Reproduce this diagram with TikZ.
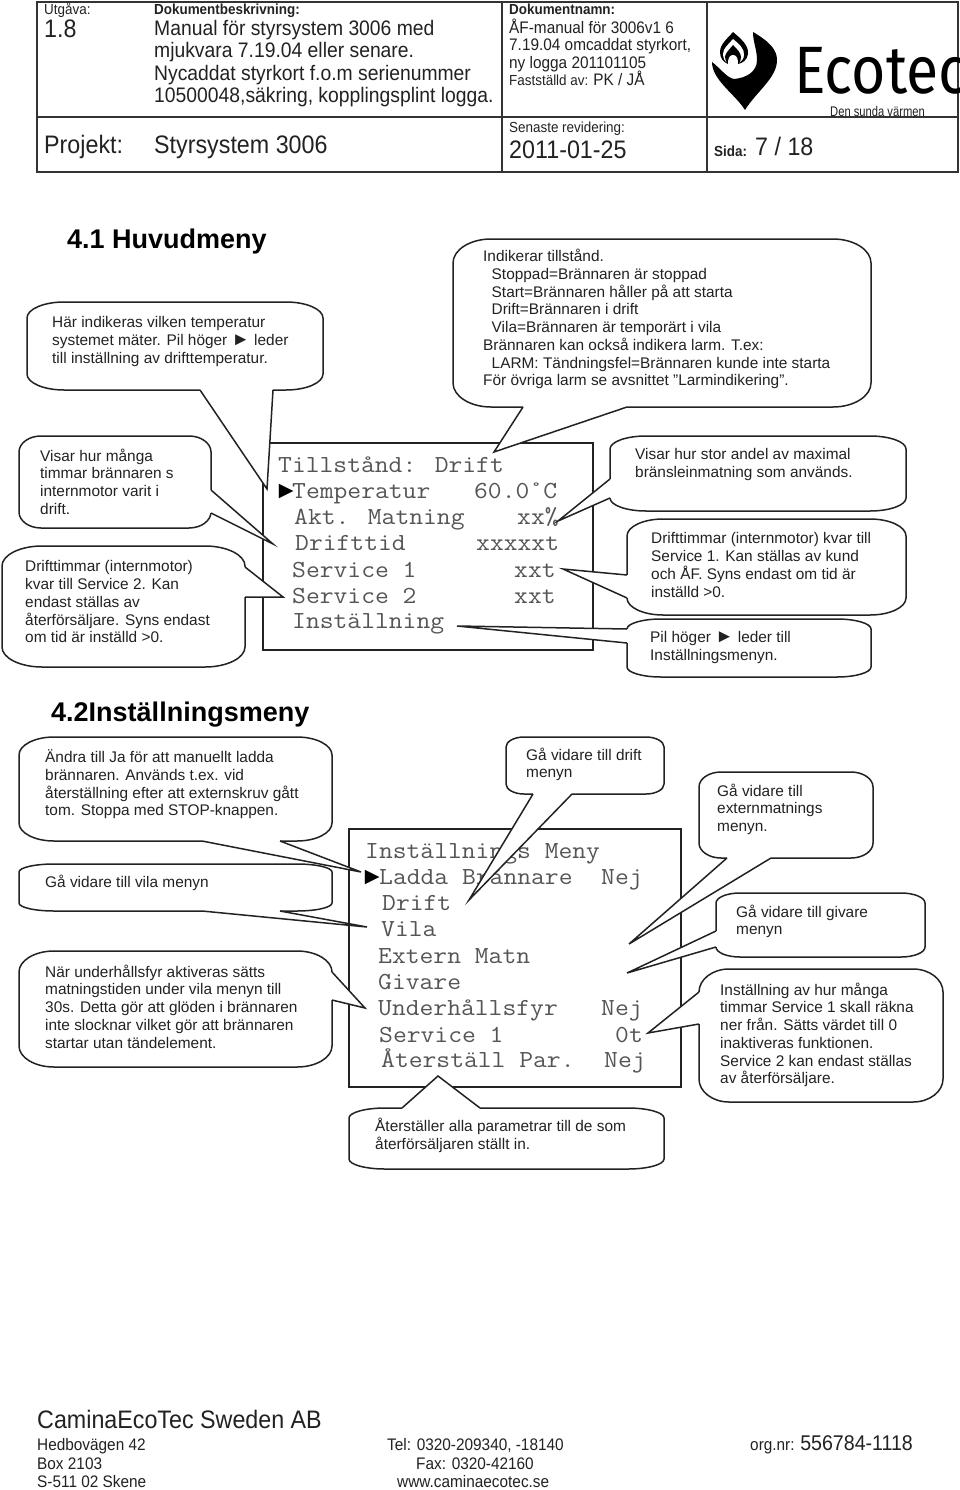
\documentclass[tikz,border=0pt]{standalone}
\usepackage{fontspec}
\setmainfont{Liberation Sans}
\newfontfamily\headfont[FakeStretch=0.92]{Liberation Sans}
\newfontfamily\screenfont[FakeStretch=1.095]{Latin Modern Mono}
\newfontfamily\logofont[FakeStretch=0.88]{Fira Sans}
\newfontfamily\slogan[FakeStretch=0.8]{Liberation Sans}
\definecolor{ink}{HTML}{222222}
\definecolor{screenink}{HTML}{555555}
\newcommand{\fsize}[2]{\fontsize{#1}{#2}\selectfont}
\newcommand{\pilmark}{{\fsize{18.5}{17.75}►}}
% bubble outline: name, x1, y1, x2, y2, rx, ry
\newcommand{\bubble}[7]{%
  \draw[bubble_style] (#2+#6,#3) -- (#4-#6,#3)
    .. controls (#4-0.45*#6,#3) and (#4,#3+0.45*#7) .. (#4,#3+#7) -- (#4,#5-#7)
    .. controls (#4,#5-0.45*#7) and (#4-0.45*#6,#5) .. (#4-#6,#5) -- (#2+#6,#5)
    .. controls (#2+0.45*#6,#5) and (#2,#5-0.45*#7) .. (#2,#5-#7) -- (#2,#3+#7)
    .. controls (#2,#3+0.45*#7) and (#2+0.45*#6,#3) .. (#2+#6,#3) -- cycle;
  \coordinate (#1) at (#2,#3);}
% bubble tail: name, base a, tip, base b
\newcommand{\tail}[7]{%
  \coordinate (#1_a) at (#2,#3);
  \coordinate (#1_tip) at (#4,#5);
  \coordinate (#1_b) at (#6,#7);
  \draw[white,line width=2.6pt] (#1_a) -- (#1_b);
  \draw[bubble_style] (#1_a) -- (#1_tip) -- (#1_b);}
\begin{document}
\begin{tikzpicture}
        [x=1pt,y=-1pt,
         frame_style/.style={draw=black!80,line width=1.2pt},
         screen_style/.style={draw=ink,line width=1.6pt},
         bubble_style/.style={draw=ink,line width=1.5pt,fill=white,line join=miter},
         note_style/.style={anchor=north west,inner sep=0pt,align=left,text=ink,yshift=-1pt,
           font=\fsize{15.4}{17.75},execute at begin node=\strut},
         head_style/.style={anchor=base west,inner sep=0pt,text=ink,font=\headfont\fsize{21}{24}},
         small_style/.style={anchor=base west,inner sep=0pt,text=ink,font=\headfont\fsize{14.6}{17}},
         bold_style/.style={anchor=base west,inner sep=0pt,text=ink,font=\headfont\bfseries\fsize{14.6}{17}},
         big_style/.style={anchor=base west,inner sep=0pt,text=ink,font=\headfont\fsize{25.3}{28}},
         addr_style/.style={anchor=base west,inner sep=0pt,text=ink,font=\headfont\fsize{16.7}{19}},
         title_style/.style={anchor=base west,inner sep=0pt,text=black,font=\bfseries\fsize{27}{32}},
         screen_text/.style={anchor=base west,inner sep=0pt,text=screenink,font=\screenfont\fsize{24.5}{26}},
         pointer_style/.style={anchor=base west,inner sep=0pt,text=black,font=\fsize{24.5}{26}}]
            \useasboundingbox (0,0) rectangle (960,1490);
            \fill[white] (0,0) rectangle (960,1490);
            % header table
            \draw[frame_style] (37,2) rectangle (958,172);
            \draw[frame_style] (37,117) -- (958,117);
            \draw[frame_style] (502,2) -- (502,172);
            \draw[frame_style] (707,2) -- (707,172);
            \node[small_style] (h_issue) at (44,15) {Utgåva:};
            \node[big_style] (h_version) at (44,38) {1.8};
            \node[bold_style] (h_desc) at (154,15) {Dokumentbeskrivning:};
            \node[head_style] (h_desc1) at (154,36) {Manual för styrsystem 3006 med};
            \node[head_style] (h_desc2) at (154,58) {mjukvara 7.19.04 eller senare.};
            \node[head_style] (h_desc3) at (154,81) {Nycaddat styrkort f.o.m serienummer};
            \node[head_style] (h_desc4) at (154,103) {10500048,säkring, kopplingsplint logga.};
            \node[bold_style] (h_name) at (509,15) {Dokumentnamn:};
            \node[addr_style] (h_name1) at (509,34) {ÅF-manual för 3006v1 6};
            \node[addr_style] (h_name2) at (509,51) {7.19.04 omcaddat styrkort,};
            \node[addr_style] (h_name3) at (509,69) {ny logga 201101105};
            \node[small_style] (h_name4) at (509,86) {Fastställd av: \fsize{16.7}{19}PK / JÅ};
            \node[big_style] (h_proj) at (44,154) {Projekt:};
            \node[big_style] (h_proj2) at (154,154) {Styrsystem 3006};
            \node[small_style] (h_rev) at (509,133) {Senaste revidering:};
            \node[big_style] (h_date) at (509,159) {2011-01-25};
            \node[bold_style] (h_page) at (714,157) {Sida:};
            \node[big_style] (h_page2) at (755,156) {7 / 18};
            % logo
            \fill[black] (753,32) .. controls (770,42) and (777,50) .. (777,60)
              .. controls (777,78) and (756,92) .. (745,110)
              .. controls (735,94) and (712,80) .. (712,62)
              .. controls (720,68) and (727,78) .. (734,79)
              .. controls (746,78) and (757,72) .. (757,60)
              .. controls (757,50) and (753,42) .. (753,32) -- cycle;
            \fill[black] (733,32) .. controls (740,38) and (749,45) .. (748,54)
              .. controls (747,60) and (743,63) .. (738,64) -- (728,64)
              .. controls (723,62) and (720,58) .. (720,52)
              .. controls (720,44) and (728,38) .. (733,32) -- cycle;
            \fill[white] (733,39) .. controls (738,43) and (745,49) .. (744,55)
              .. controls (744,59) and (741,62) .. (738,63) -- (728,63)
              .. controls (725,62) and (723,58) .. (723,54)
              .. controls (723,48) and (729,44) .. (733,39) -- cycle;
            \fill[black] (733,45) .. controls (737,49) and (741,53) .. (741,57)
              .. controls (741,60) and (740,62) .. (739,63) -- (727,63)
              .. controls (726,61) and (725,59) .. (725,57)
              .. controls (725,53) and (730,49) .. (733,45) -- cycle;
            \fill[white] (733,55) .. controls (737,55) and (738,59) .. (738,64) -- (728,64)
              .. controls (728,59) and (729,55) .. (733,55) -- cycle;
            \node[anchor=base west,inner sep=0pt,text=black,font=\logofont\fsize{67}{70}] (logo_name) at (794,94) {Ecotec};
            \node[anchor=base west,inner sep=0pt,text=ink,font=\slogan\fsize{14}{16}] (logo_slogan) at (830,116.5) {Den sunda värmen};
            % section titles
            \node[title_style] (title_main) at (67,248) {4.1 Huvudmeny};
            \node[title_style] (title_settings) at (51,721) {4.2Inställningsmeny};
            % main menu screen
            \draw[screen_style] (263,443) rectangle (593,650);
            \node[screen_text] (m_state) at (278,472) {Tillstånd: Drift};
            \node[pointer_style] (m_pointer) at (274,498) {►};
            \node[screen_text] (m_temp) at (292,498) {Temperatur};
            \node[screen_text] (m_temp_val) at (474,498) {60.0˚C};
            \node[screen_text] (m_feed) at (294,524) {Akt. Matning};
            \node[screen_text] (m_feed_val) at (517,524) {xx\%};
            \node[screen_text] (m_time) at (295,550) {Drifttid};
            \node[screen_text] (m_time_val) at (476,550) {xxxxxt};
            \node[screen_text] (m_srv1) at (292,577) {Service 1};
            \node[screen_text] (m_srv1_val) at (514,577) {xxt};
            \node[screen_text] (m_srv2) at (292,603) {Service 2};
            \node[screen_text] (m_srv2_val) at (514,603) {xxt};
            \node[screen_text] (m_setup) at (292,628) {Inställning};
            % settings menu screen
            \draw[screen_style] (349,829) rectangle (681,1087);
            \node[screen_text] (s_title) at (365,858) {Inställnings Meny};
            \node[pointer_style] (s_pointer) at (360,884) {►};
            \node[screen_text] (s_load) at (379,884) {Ladda Brännare};
            \node[screen_text] (s_load_val) at (601,884) {Nej};
            \node[screen_text] (s_drift) at (382,910) {Drift};
            \node[screen_text] (s_vila) at (381,936) {Vila};
            \node[screen_text] (s_ext) at (378,963) {Extern Matn};
            \node[screen_text] (s_giv) at (378,989) {Givare};
            \node[screen_text] (s_maint) at (378,1015) {Underhållsfyr};
            \node[screen_text] (s_maint_val) at (601,1015) {Nej};
            \node[screen_text] (s_srv) at (379,1042) {Service 1};
            \node[screen_text] (s_srv_val) at (615,1042) {0t};
            \node[screen_text] (s_reset) at (381,1067) {Återställ Par.};
            \node[screen_text] (s_reset_val) at (604,1067) {Nej};
            % bubbles of the main menu
            \bubble{b_temp}{27}{302}{323}{390}{37}{16}
            \tail{t_temp}{200}{390}{267}{489}{273}{390}
            \bubble{b_hours}{19}{436}{211}{528}{22}{16}
            \tail{t_hours}{211}{490}{273}{544}{211}{513}
            \bubble{b_srv2}{2}{546}{245}{667}{40}{20}
            \tail{t_srv2}{245}{567}{283}{597}{245}{597}
            \bubble{b_state}{453}{239}{871}{407}{38}{24}
            \tail{t_state}{523}{407}{494}{452}{627}{407}
            \bubble{b_feed}{610}{436}{906}{511}{36}{13}
            \tail{t_feed}{610}{479}{558}{521}{610}{498}
            \bubble{b_srv1}{627}{519}{906}{615}{36}{17}
            \tail{t_srv1}{627}{575}{563}{569}{627}{598}
            \bubble{b_setup}{627}{619}{871}{677}{34}{10}
            \tail{t_setup}{627}{629}{457}{626}{627}{643}
            % bubbles of the settings menu
            \bubble{b_load}{19}{737}{332}{841}{35}{18}
            \tail{t_load}{202}{841}{361}{872}{280}{841}
            \bubble{b_vila}{19}{864}{332}{911}{35}{8}
            \tail{t_vila}{202}{911}{367}{927}{280}{911}
            \bubble{b_maint}{19}{951}{332}{1067}{35}{21}
            \tail{t_maint}{332}{972}{365}{1008}{332}{1000}
            \bubble{b_drift}{506}{737}{664}{794}{18}{10}
            \tail{t_drift}{533}{794}{469}{900}{572}{794}
            \bubble{b_ext}{699}{772}{873}{858}{22}{15}
            \tail{t_ext}{727}{858}{629}{944}{771}{858}
            \bubble{b_giv}{716}{893}{925}{957}{24}{10}
            \tail{t_giv}{716}{931}{627}{973}{716}{947}
            \bubble{b_srv}{699}{969}{943}{1102}{30}{23}
            \tail{t_srv}{699}{992}{648}{1033}{699}{1024}
            \bubble{b_reset}{349}{1108}{664}{1169}{36}{10}
            \tail{t_reset}{402}{1108}{438}{1076}{480}{1108}
            % bubble texts
            \node[note_style] (n_temp) at (52,315.5) {Här indikeras vilken temperatur\\systemet mäter. Pil höger \pilmark\ leder\\till inställning av drifttemperatur.};
            \node[note_style] (n_hours) at (40,447.5) {Visar hur många\\timmar brännaren s\\internmotor varit i\\drift.};
            \node[note_style] (n_srv2) at (25,559.5) {Drifttimmar (internmotor)\\kvar till Service 2. Kan\\endast ställas av\\återförsäljare. Syns endast\\om tid är inställd >0.};
            \node[note_style] (n_state) at (483,248) {Indikerar tillstånd.\\
              \hspace*{8.5pt}Stoppad=Brännaren är stoppad\\
              \hspace*{8.5pt}Start=Brännaren håller på att starta\\
              \hspace*{8.5pt}Drift=Brännaren i drift\\
              \hspace*{8.5pt}Vila=Brännaren är temporärt i vila\\
              Brännaren kan också indikera larm. T.ex:\\
              \hspace*{8.5pt}LARM: Tändningsfel=Brännaren kunde inte starta\\
              För övriga larm se avsnittet ”Larmindikering”.};
            \node[note_style] (n_feed) at (635,447.5) {Visar hur stor andel av maximal\\bränsleinmatning som används.};
            \node[note_style] (n_srv1) at (651,531.5) {Drifttimmar (internmotor) kvar till\\Service 1. Kan ställas av kund\\och ÅF. Syns endast om tid är\\inställd >0.};
            \node[note_style] (n_setup) at (650,630.5) {Pil höger \pilmark\ leder till\\Inställningsmenyn.};
            \node[note_style] (n_load) at (45,748.5) {Ändra till Ja för att manuellt ladda\\brännaren. Används t.ex. vid\\återställning efter att externskruv gått\\tom. Stoppa med STOP-knappen.};
            \node[note_style] (n_vila) at (45,873.5) {Gå vidare till vila menyn};
            \node[note_style] (n_maint) at (45,963.5) {När underhållsfyr aktiveras sätts\\matningstiden under vila menyn till\\30s. Detta gör att glöden i brännaren\\inte slocknar vilket gör att brännaren\\startar utan tändelement.};
            \node[note_style] (n_drift) at (526,746.5) {Gå vidare till drift\\menyn};
            \node[note_style] (n_ext) at (717,782.5) {Gå vidare till\\externmatnings\\menyn.};
            \node[note_style] (n_giv) at (736,903.5) {Gå vidare till givare\\menyn};
            \node[note_style] (n_srv) at (720,981.5) {Inställning av hur många\\timmar Service 1 skall räkna\\ner från. Sätts värdet till 0\\inaktiveras funktionen.\\Service 2 kan endast ställas\\av återförsäljare.};
            \node[note_style] (n_reset) at (375,1117) {Återställer alla parametrar till de som\\återförsäljaren ställt in.};
            % footer
            \node[big_style] (f_company) at (37,1428) {CaminaEcoTec Sweden AB};
            \node[addr_style] (f_addr1) at (37,1450) {Hedbovägen 42};
            \node[addr_style] (f_addr2) at (37,1469) {Box 2103};
            \node[addr_style] (f_addr3) at (37,1487) {S-511 02 Skene};
            \node[addr_style] (f_tel) at (387,1450) {Tel: 0320-209340, -18140};
            \node[addr_style] (f_fax) at (416,1469) {Fax: 0320-42160};
            \node[addr_style] (f_web) at (397,1487) {www.caminaecotec.se};
            \node[addr_style] (f_org) at (750,1450) {org.nr: \fsize{21.3}{23}556784-1118};
\end{tikzpicture}
\end{document}
